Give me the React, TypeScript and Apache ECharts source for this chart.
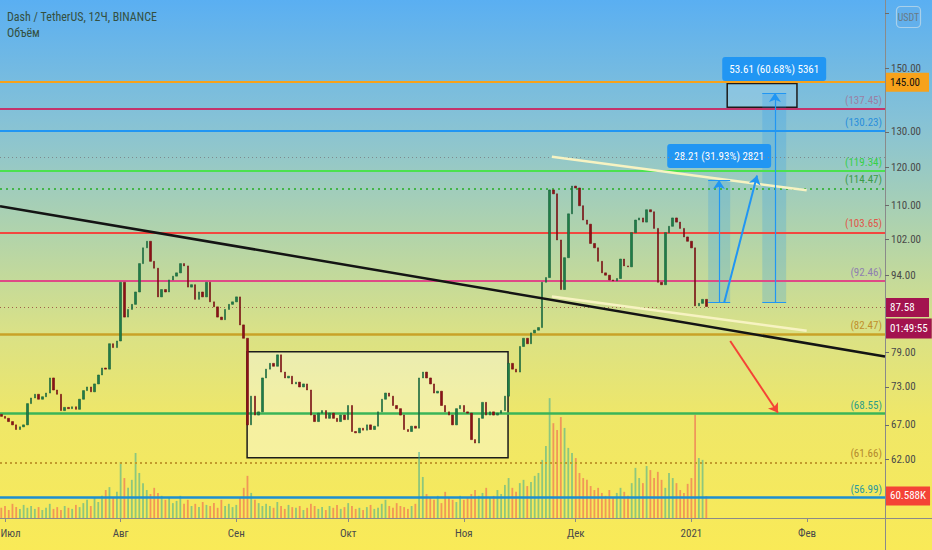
import React, { useEffect, useRef } from "react";
import * as echarts from "echarts";

const DAY = 86400000;
const JUL1 = Date.UTC(2020, 6, 1);
const FIRST_DAY = -1; // first candle = 30 Jun 2020

const firstOpen = 68.6;
const closes = [
  68.3, 68.0, 67.5, 67.0, 66.3, 66.7, 67.0, 70.3, 71.2, 71.8, 71.0,
  71.4, 72.0, 74.5, 72.5, 71.8, 69.2, 69.7, 69.5, 69.8, 69.4,
  71.0, 72.4, 73.0, 72.2, 73.5, 75.0, 76.2, 76.0, 80.5, 79.8,
  81.0, 92.5, 85.5, 87.0, 88.0, 90.5, 96.5, 100.0, 101.5, 97.0,
  95.5, 89.5, 91.0, 90.5, 93.0, 93.8, 94.5, 96.5, 96.0, 91.5,
  92.0, 89.0, 90.5, 89.5, 92.5, 88.5, 87.5, 85.5, 85.0, 87.0,
  88.0, 88.5, 89.5, 84.0, 81.5, 67.0, 71.5, 68.5, 69.0, 74.5,
  76.0, 77.0, 76.5, 78.5, 75.5, 74.5, 74.8, 73.5, 73.8, 73.0,
  73.5, 72.5, 68.5, 67.5, 68.8, 69.2, 68.0, 68.8, 68.0, 67.5,
  68.5, 67.8, 70.0, 66.0, 65.8, 66.5, 66.2, 67.0, 66.3, 66.8,
  69.0, 71.0, 72.0, 71.5, 70.0, 69.5, 68.5, 66.3, 66.0, 66.8,
  66.5, 74.5, 75.5, 74.5, 73.5, 72.0, 72.3, 70.0, 69.0, 68.5,
  67.0, 69.5, 70.0, 69.0, 68.8, 64.8, 64.3, 68.0, 70.5, 68.5,
  69.0, 68.5, 68.8, 69.2, 71.5, 77.0, 76.0, 75.5, 80.0, 81.5,
  80.5, 82.5, 83.0, 83.5, 92.5, 93.5, 114.0, 113.0, 101.8, 91.0,
  97.8, 108.0, 115.0, 114.5, 110.0, 106.5, 105.5, 101.0, 100.0, 97.0,
  94.5, 94.0, 93.0, 92.8, 93.3, 97.5, 96.0, 95.8, 103.5, 106.5,
  107.0, 106.0, 109.0, 108.5, 104.5, 92.5, 92.0, 103.5, 105.0, 107.0,
  106.0, 104.5, 102.5, 101.5, 100.0, 87.7, 88.2, 89.0, 87.58,
];
const highs = [
  69.2, 68.9, 68.4, 67.9, 67.4, 67.2, 67.8, 70.9, 72.0, 72.6, 72.3,
  72.1, 72.8, 75.6, 74.9, 73.2, 72.0, 70.3, 70.2, 70.4, 70.3,
  71.6, 73.0, 73.9, 73.6, 74.3, 76.0, 77.4, 77.8, 81.6, 81.5,
  82.3, 93.6, 93.0, 88.4, 89.5, 92.0, 97.6, 101.5, 104.2, 102.4,
  98.2, 96.3, 92.6, 92.2, 94.0, 95.0, 96.0, 97.5, 99.8, 96.8,
  93.4, 92.8, 92.0, 91.4, 93.4, 93.0, 89.4, 88.0, 86.4, 87.9,
  89.2, 89.6, 90.6, 90.2, 84.8, 82.0, 73.2, 72.2, 71.0, 75.4,
  77.2, 78.0, 77.8, 80.0, 79.0, 76.5, 75.9, 75.3, 74.6, 74.4,
  74.2, 74.0, 73.0, 69.6, 69.8, 70.2, 69.8, 69.9, 69.4, 68.6,
  69.2, 69.0, 71.0, 70.4, 66.9, 67.6, 67.4, 67.9, 67.6, 67.8,
  69.8, 71.8, 73.3, 72.8, 72.0, 70.8, 70.1, 69.0, 67.2, 67.6,
  67.4, 78.3, 76.8, 76.4, 75.4, 74.0, 73.4, 72.8, 70.8, 69.8,
  69.0, 70.4, 71.0, 70.6, 69.8, 69.2, 65.6, 68.8, 71.6, 71.0,
  70.0, 69.8, 69.6, 70.2, 72.4, 78.2, 77.8, 77.0, 81.0, 82.6,
  82.4, 83.6, 84.4, 85.0, 94.0, 95.5, 123.0, 117.0, 114.0, 103.0,
  99.5, 110.5, 117.5, 116.8, 115.6, 111.0, 108.0, 106.4, 102.5, 101.0,
  97.8, 96.0, 95.0, 94.0, 94.6, 98.8, 98.4, 97.4, 104.6, 108.0,
  109.4, 108.6, 119.0, 111.0, 109.5, 105.2, 94.5, 104.8, 107.0, 112.0,
  108.5, 107.2, 105.5, 104.0, 102.6, 100.8, 89.8, 96.5, 90.2,
];
const lows = [
  67.9, 67.4, 66.8, 66.2, 65.3, 65.8, 66.2, 66.8, 69.8, 70.6, 70.2,
  70.4, 70.9, 71.6, 71.8, 70.9, 68.6, 68.8, 68.9, 69.0, 68.7,
  69.1, 70.6, 71.8, 71.5, 71.8, 72.9, 74.4, 74.9, 75.6, 78.4,
  79.0, 80.4, 78.5, 84.6, 86.0, 87.4, 89.8, 95.5, 98.6, 95.8,
  93.2, 88.2, 84.5, 88.6, 89.8, 92.0, 92.8, 93.6, 94.6, 90.4,
  89.9, 87.6, 88.2, 88.4, 89.0, 87.6, 86.2, 84.4, 82.0, 84.2,
  86.3, 87.2, 87.8, 82.8, 79.8, 65.5, 66.4, 65.8, 67.2, 68.5,
  73.8, 75.2, 75.4, 76.0, 74.8, 73.4, 73.2, 72.4, 72.6, 72.1,
  71.8, 71.4, 67.9, 66.4, 67.0, 68.1, 67.2, 67.3, 67.0, 66.6,
  66.9, 66.8, 67.3, 65.2, 64.8, 65.0, 65.4, 65.6, 65.3, 65.6,
  66.2, 68.4, 70.2, 70.6, 69.2, 68.6, 67.6, 65.8, 65.2, 65.4,
  65.8, 66.0, 73.6, 73.2, 72.6, 71.2, 71.0, 69.4, 68.0, 67.6,
  66.2, 66.6, 68.8, 68.2, 67.4, 64.2, 63.2, 63.8, 67.2, 67.6,
  67.8, 67.6, 67.9, 68.0, 68.8, 71.0, 74.8, 74.0, 75.0, 79.0,
  78.6, 79.8, 81.6, 82.0, 83.0, 89.0, 92.5, 109.5, 99.0, 83.0,
  87.5, 96.5, 106.5, 111.0, 107.0, 104.0, 102.5, 99.5, 97.8, 95.8,
  93.0, 92.5, 91.0, 88.0, 91.2, 92.6, 94.8, 94.2, 95.2, 102.0,
  104.8, 104.5, 105.2, 106.0, 103.0, 87.8, 89.5, 91.5, 102.0, 104.0,
  104.2, 102.8, 100.8, 99.6, 98.0, 86.8, 86.5, 86.8, 86.9,
];
// volume, thousands of DASH
const volumesK = [
  28, 33, 22, 39, 30, 25, 36, 28, 33, 25, 30,
  22, 28, 39, 25, 30, 22, 33, 28, 25, 36,
  30, 41, 50, 33, 55, 44, 61, 77, 85, 55,
  72, 154, 110, 83, 105, 179, 124, 96, 77, 66,
  83, 69, 61, 50, 55, 41, 47, 61, 39, 50,
  33, 39, 30, 44, 36, 33, 41, 28, 50, 33,
  39, 30, 36, 55, 83, 116, 69, 50, 41, 33,
  39, 33, 28, 44, 33, 25, 36, 30, 28, 33,
  22, 28, 39, 33, 25, 30, 22, 33, 28, 36,
  25, 30, 41, 33, 25, 28, 22, 30, 36, 25,
  28, 39, 50, 33, 28, 41, 33, 30, 25, 33,
  39, 182, 113, 66, 55, 50, 61, 41, 72, 55,
  50, 44, 61, 50, 55, 66, 77, 61, 69, 83,
  55, 61, 77, 66, 91, 110, 83, 72, 96, 105,
  88, 99, 116, 124, 160, 198, 330, 261, 242, 278,
  248, 193, 179, 165, 124, 110, 105, 88, 77, 83,
  69, 61, 77, 55, 69, 83, 72, 61, 96, 138,
  110, 96, 143, 132, 110, 127, 105, 83, 124, 110,
  96, 77, 69, 94, 110, 284, 165, 160, 60.588,
];

const monthStarts = [
  Date.UTC(2020, 6, 1), Date.UTC(2020, 7, 1), Date.UTC(2020, 8, 1), Date.UTC(2020, 9, 1),
  Date.UTC(2020, 10, 1), Date.UTC(2020, 11, 1), Date.UTC(2021, 0, 1), Date.UTC(2021, 1, 1),
];
const monthLabels = ["Июл", "Авг", "Сен", "Окт", "Ноя", "Дек", "2021", "Фев"];
const priceTicks = [150, 130, 120, 110, 102, 94, 79, 73, 67, 62];
const hiddenTick = 170; // tick mark under the currency badge

const levelPrices = [145, 137.45, 130.23, 122.9, 119.34, 114.47, 103.65, 92.46, 87.58, 82.47, 68.55, 61.66, 56.99];
const lastPrice = 87.58;
const countdown = "01:49:55";
const lastVolumeK = 60.588;

// drawings: [day offset from 1 Jul 2020, price]
const trendLine = [[-1.34, 109.9], [235.9, 78.2]];
const channelTop = [[146.6, 122.9], [214.9, 113.9]];
const channelBottom = [[146.6, 89.6], [214.9, 82.9]];
const rangeBox = [[64.9, 79.05], [134.85, 62.2]];
const targetBox = [[193.6, 145], [212.3, 137.45]];
const toolBase = 88.35;
const toolA = { from: 188.5, to: 194.4, mid: 191.4, top: 116.56, label: "28.21 (31.93%) 2821" };
const toolB = { from: 203, to: 209.4, mid: 206.4, top: 141.96, label: "53.61 (60.68%) 5361" };
const blueArrow = [[192.8, 88.35], [201.6, 117.8]];
const redArrow = [[194.4, 81.0], [207.2, 68.87]];

const levelStyles: any[] = [
  { color: "#f7a21b", width: 2, type: "solid", axisBox: "#f7a21b", axisText: "#111" },
  { color: "#c4346c", width: 2, type: "solid", text: "#9b7fa4" },
  { color: "#2196f3", width: 2, type: "solid", text: "#2a8fdc" },
  { color: "#7d8b8f", width: 1, type: [1, 3], none: true },
  { color: "#4be14f", width: 2, type: "solid", text: "#35d048" },
  { color: "#43b54a", width: 2, type: [2, 4], text: "#3b9c48" },
  { color: "#f2473f", width: 2, type: "solid", text: "#e0574a" },
  { color: "#de4a86", width: 2, type: "solid", text: "#8f7fb0" },
  { color: "#a0604a", width: 1, type: [1, 3], axisBox: "#a3134f", axisText: "#fff" },
  { color: "#c9a227", width: 2.5, type: "solid", text: "#c0902c" },
  { color: "#3ab458", width: 2.5, type: "solid", text: "#2e9d86" },
  { color: "#c29a2c", width: 2, type: [2, 3], text: "#b48a2e" },
  { color: "#1e8fd0", width: 2.5, type: "solid", text: "#2c9aa0" },
];

const FONT = "'Liberation Sans Narrow', 'Roboto Condensed', Roboto, sans-serif";
const L = Math.log;
const T = (d: number) => JUL1 + d * DAY;
const P = (pt: number[]) => [T(pt[0]), L(pt[1])];

function buildOption(): any {
  const opens = closes.map((c, i) => (i === 0 ? firstOpen : closes[i - 1]));
  const times = closes.map((_, i) => T(i + FIRST_DAY));
  const bodies = closes.map((c, i) => {
    const o = opens[i];
    return [times[i], L(o), L(c), L(Math.min(o, c)), L(Math.max(o, c))];
  });
  const wicks = closes.map((_, i) => [times[i], L(lows[i]), L(highs[i]), L(lows[i]), L(highs[i])]);
  const vols = volumesK.map((v, i) => ({
    value: [times[i], v],
    itemStyle: { color: closes[i] >= opens[i] ? "rgba(38,166,154,0.5)" : "rgba(239,83,80,0.55)" },
  }));

  const invisible = { color: "rgba(0,0,0,0)", width: 0.01 };

  const axisBoxLabel = (text: string, bg: string, fg: string, extra: any = {}) => ({
    show: true, position: "end", distance: 1, formatter: text, backgroundColor: bg, color: fg,
    padding: [3, 4, 3, 4], fontSize: 11, fontFamily: FONT, ...extra,
  });

  const levelLines: any[] = levelPrices.map((p, i) => {
    const s = levelStyles[i];
    let label: any = { show: false };
    if (s.text) {
      label = { show: true, position: "insideEndTop", formatter: `(${p.toFixed(2)})`, color: s.text, fontSize: 11, fontFamily: FONT, distance: 3 };
    } else if (s.axisBox) {
      label = axisBoxLabel(p.toFixed(2), s.axisBox, s.axisText, { width: 35, padding: [4, 4, 4, 4] });
    }
    return { yAxis: L(p), lineStyle: { color: s.color, width: s.width, type: s.type }, label };
  });
  levelLines.push({
    yAxis: L(lastPrice) - 0.00001, lineStyle: invisible,
    label: axisBoxLabel(countdown, "#a3134f", "#fff", { offset: [0, 21], padding: [5, 4, 4, 4] }),
  });

  const seg = (a: number[], b: number[], color: string, width: number, arrow = false, type: any = "solid") => [
    { coord: P(a), symbol: "none", lineStyle: { color, width, type } },
    { coord: P(b), symbol: arrow ? "arrow" : "none", symbolSize: 9 },
  ];

  const drawLines: any[] = [
    seg(trendLine[0], trendLine[1], "#141414", 2.5),
    seg(channelTop[0], channelTop[1], "#f7f3c2", 2.5),
    seg(channelBottom[0], channelBottom[1], "#f7f3c2", 2.5),
    seg([toolA.mid, toolBase], [toolA.mid, toolA.top], "#2196f3", 1.2, true),
    seg([toolB.mid, toolBase], [toolB.mid, toolB.top], "#2196f3", 1.2, true),
    seg([toolA.from, toolA.top], [toolA.to, toolA.top], "#2196f3", 1),
    seg([toolA.from, toolBase], [toolA.to, toolBase], "#2196f3", 1),
    seg([toolB.from, toolB.top], [toolB.to, toolB.top], "#2196f3", 1),
    seg([toolB.from, toolBase], [toolB.to, toolBase], "#2196f3", 1),
    seg(blueArrow[0], blueArrow[1], "#2196f3", 2, true),
    seg(redArrow[0], redArrow[1], "#f44336", 2, true),
  ];

  const toolLabel = (text: string) => ({
    show: true, position: "top", distance: 12, formatter: text, color: "#fff", backgroundColor: "#2196f3",
    borderRadius: 3, padding: [7, 7, 6, 7], fontSize: 11, fontFamily: FONT,
  });

  const areas: any[] = [
    [
      { coord: P(rangeBox[0]), itemStyle: { color: "rgba(255,255,255,0.38)", borderColor: "#1c1c1c", borderWidth: 1.5 } },
      { coord: P(rangeBox[1]) },
    ],
    [
      { coord: P(targetBox[0]), itemStyle: { color: "rgba(255,255,255,0.12)", borderColor: "#1c1c1c", borderWidth: 1.5 } },
      { coord: P(targetBox[1]) },
    ],
    [
      { coord: [T(toolA.from), L(toolA.top)], itemStyle: { color: "rgba(33,150,243,0.22)" }, label: toolLabel(toolA.label) },
      { coord: [T(toolA.to), L(toolBase)] },
    ],
    [
      { coord: [T(toolB.from), L(toolB.top)], itemStyle: { color: "rgba(33,150,243,0.22)" }, label: toolLabel(toolB.label) },
      { coord: [T(toolB.to), L(toolBase)] },
    ],
  ];

  const xMin = T(-1.34);
  const xMax = T(235.9);

  return {
    animation: false,
    backgroundColor: "transparent",
    textStyle: { fontFamily: FONT },
    title: {
      text: "Dash / TetherUS, 12Ч, BINANCE",
      subtext: "Объём",
      left: 2,
      top: 6,
      itemGap: 4,
      textStyle: { fontSize: 12, fontWeight: "normal", color: "#34503f", fontFamily: FONT },
      subtextStyle: { fontSize: 12, color: "#34503f", fontFamily: FONT },
    },
    grid: [
      { left: 0, right: 47, top: 0, bottom: 32, outerBoundsMode: "none", containLabel: false },
      { left: 0, right: 47, top: 368, bottom: 32, outerBoundsMode: "none", containLabel: false },
    ],
    xAxis: [
      {
        type: "value", gridIndex: 0, min: xMin, max: xMax,
        axisLine: { show: true, onZero: false, lineStyle: { color: "#8a8a8a", width: 1 } },
        axisTick: { show: true, length: 4, customValues: monthStarts, lineStyle: { color: "#8a8a8a" } },
        axisLabel: {
          customValues: monthStarts, color: "#4a4a4a", fontSize: 11, margin: 10, fontFamily: FONT,
          formatter: (v: number) => {
            const i = monthStarts.findIndex((m) => Math.abs(m - v) < DAY);
            if (i < 0) return "";
            return i === 0 ? `{first|${monthLabels[i]}}` : monthLabels[i];
          },
          rich: { first: { padding: [0, 0, 0, 11], fontSize: 11, color: "#4a4a4a", fontFamily: FONT } },
        },
        splitLine: { show: false },
      },
      { type: "value", gridIndex: 1, min: xMin, max: xMax, show: false },
    ],
    yAxis: [
      {
        type: "value", gridIndex: 0, position: "right", min: L(54.27), max: L(175.2),
        axisLine: { show: true, onZero: false, lineStyle: { color: "#8a8a8a", width: 1 } },
        axisTick: { show: true, length: 4, customValues: [hiddenTick, ...priceTicks].map(L), lineStyle: { color: "#6a6a6a" } },
        axisLabel: {
          customValues: priceTicks.map(L), color: "#4a4a4a", fontSize: 11, margin: 6, fontFamily: FONT,
          formatter: (v: number) => Math.exp(v).toFixed(2),
        },
        splitLine: { show: false },
      },
      { type: "value", gridIndex: 1, min: 0, max: 413, show: false },
    ],
    series: [
      {
        name: "volume", type: "bar", xAxisIndex: 1, yAxisIndex: 1, data: vols, barWidth: 1.8, z: 1,
        encode: { x: 0, y: 1 },
        markLine: {
          silent: true, symbol: ["none", "none"],
          data: [{ yAxis: lastVolumeK, lineStyle: invisible, label: axisBoxLabel("60.588K", "#f44336", "#fff", { padding: [4, 4, 4, 4] }) }],
        },
      },
      {
        name: "wicks", type: "candlestick", data: wicks, barWidth: 1, z: 2,
        encode: { x: 0, y: [1, 2, 3, 4] },
        itemStyle: { color: "rgba(105,118,110,0.55)", color0: "rgba(105,118,110,0.55)", borderWidth: 0 },
        markLine: { silent: true, symbol: ["none", "none"], z: 2, data: levelLines },
      },
      {
        name: "Dash / TetherUS", type: "candlestick", data: bodies, barWidth: 2, z: 3,
        encode: { x: 0, y: [1, 2, 3, 4] },
        itemStyle: { color: "#1f7d46", color0: "#8c1116", borderColor: "#16603a", borderColor0: "#700b10", borderWidth: 0.6 },
        markArea: { silent: true, data: areas },
        markLine: { silent: true, symbol: ["none", "none"], z: 6, label: { show: false }, data: drawLines },
      },
    ],
    graphic: [
      { type: "line", shape: { x1: 885, y1: 518.5, x2: 932, y2: 518.5 }, style: { stroke: "#8a8a8a", lineWidth: 1 }, z: 50, silent: true },
      { type: "line", shape: { x1: 885.5, y1: 518, x2: 885.5, y2: 550 }, style: { stroke: "#8a8a8a", lineWidth: 1 }, z: 50, silent: true },
      { type: "rect", shape: { x: 896.5, y: 6.5, width: 24, height: 21, r: 4 }, style: { fill: "#62b0ec", stroke: "#a9d0ea", lineWidth: 1.2 }, z: 100, silent: true },
      { type: "text", x: 908.5, y: 17, style: { text: "USDT", fill: "#6a7a84", fontSize: 10, fontFamily: FONT, align: "center", verticalAlign: "middle" }, z: 101, silent: true },
    ],
  };
}

export default function App() {
  const ref = useRef<HTMLDivElement>(null);
  useEffect(() => {
    const chart = echarts.init(ref.current!, null, { renderer: "svg" });
    chart.setOption(buildOption());
    return () => chart.dispose();
  }, []);
  return (
    <div
      style={{
        position: "fixed", left: 0, top: 0, width: 932, height: 550, overflow: "hidden",
        background: "linear-gradient(to bottom, #5aaff2 0%, #86c2d6 22%, #b0d3ac 42%, #d9e187 60%, #efe768 76%, #f9ea57 100%)",
      }}
    >
      <div ref={ref} style={{ width: 932, height: 550 }} />
    </div>
  );
}
